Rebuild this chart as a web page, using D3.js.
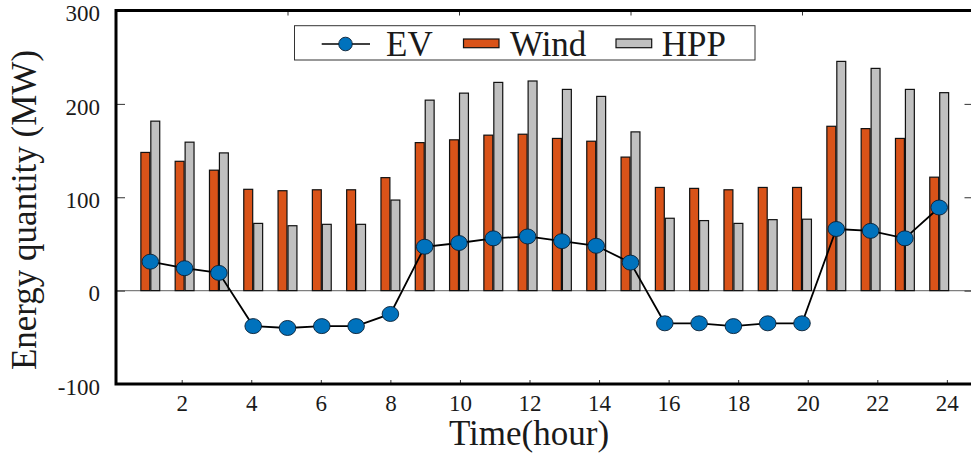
<!DOCTYPE html>
<html>
<head>
<meta charset="utf-8">
<script src="https://cdn.jsdelivr.net/npm/d3@7"></script>
<style>
  html, body { margin: 0; padding: 0; background: #fff; }
  svg { display: block; }
  text { font-family: "Liberation Serif", "Times New Roman", serif; fill: #1a1a1a; }
</style>
</head>
<body>
<svg id="chart" width="971" height="454"></svg>
<script>
// Hourly energy quantities (MW)
const hours = d3.range(1, 25);
const evValues = [31, 24, 19, -38, -40, -38, -38, -25, 47, 51, 56, 58, 53, 48, 30, -35, -35, -38, -35, -35, 66, 64, 56, 89];
const windValues = [148, 138.5, 129, 108.5, 107, 108, 108, 121, 158.5, 161.5, 166.5, 167.5, 163, 160, 143, 110.5, 109.5, 108, 110.5, 110.5, 176, 173.5, 163, 121.5];
const hppValues = [181.5, 159, 147.5, 72, 69.5, 71, 71, 97, 204, 211.5, 223, 224.5, 215.5, 208, 170, 77.5, 75, 72, 76, 76.5, 245.5, 238, 215.5, 212];
const yTicks = [-100, 0, 100, 200, 300];
const xTickLabels = [2, 4, 6, 8, 10, 12, 14, 16, 18, 20, 22, 24];
const topTicks = [5, 10, 15, 20];
const rightTicks = [0, 100, 200];
const seriesNames = ["EV", "Wind", "HPP"];

const colors = { ev: "#0072BD", wind: "#D95319", hpp: "#C0C0C0" };

const svg = d3.select("#chart");
const plotL = 116, plotR = 973.5, plotT = 10.5, plotB = 384;

// Data axis and the secondary hour axis that carries the bottom labels
const x = d3.scaleLinear().domain([0, 25]).range([plotL, plotR]);
const xLab = d3.scaleLinear().domain([2, 22]).range([181.7, 877.3]);
const y = d3.scaleLinear().domain([-100, 300]).range([plotB, plotT]);

const barW = x(0.26) - x(0);

// Zero reference line
svg.append("line")
  .attr("x1", plotL).attr("x2", plotR)
  .attr("y1", y(0)).attr("y2", y(0))
  .attr("stroke", "#7f7f7f").attr("stroke-width", 1.2);

// Wind bars
svg.append("g").selectAll("rect")
  .data(hours)
  .join("rect")
  .attr("x", (h) => x(h - 0.275))
  .attr("width", barW)
  .attr("y", (h, i) => y(windValues[i]))
  .attr("height", (h, i) => y(0) - y(windValues[i]))
  .attr("fill", colors.wind)
  .attr("stroke", "#111").attr("stroke-width", 1.2);

// HPP bars
svg.append("g").selectAll("rect")
  .data(hours)
  .join("rect")
  .attr("x", (h) => x(h + 0.015))
  .attr("width", barW)
  .attr("y", (h, i) => y(hppValues[i]))
  .attr("height", (h, i) => y(0) - y(hppValues[i]))
  .attr("fill", colors.hpp)
  .attr("stroke", "#111").attr("stroke-width", 1.2);

// EV line with markers
const line = d3.line().x((d) => x(d[0])).y((d) => y(d[1]));
const evPts = hours.map((h, i) => [h, evValues[i]]);
svg.append("path")
  .datum(evPts)
  .attr("d", line)
  .attr("fill", "none")
  .attr("stroke", "#000").attr("stroke-width", 1.8);
svg.append("g").selectAll("ellipse")
  .data(evPts)
  .join("ellipse")
  .attr("cx", (d) => x(d[0]))
  .attr("cy", (d) => y(d[1]))
  .attr("rx", 8.3).attr("ry", 7.5)
  .attr("fill", colors.ev)
  .attr("stroke", "#0a1f33").attr("stroke-width", 0.9);

// Axes
const tickFont = 23;
const plainNum = (d) => String(d);
const gLeft = svg.append("g")
  .attr("transform", `translate(${plotL},0)`)
  .call(d3.axisLeft(y).tickValues(yTicks).tickFormat(plainNum)
    .tickSizeInner(-9).tickSizeOuter(0).tickPadding(16));
gLeft.selectAll("text").attr("font-size", tickFont).attr("dy", "0.45em");

const gBottom = svg.append("g")
  .attr("transform", `translate(0,${plotB})`)
  .call(d3.axisBottom(xLab).tickValues(xTickLabels).tickFormat(plainNum)
    .tickSizeInner(-4).tickSizeOuter(0).tickPadding(11));
gBottom.selectAll("text").attr("font-size", tickFont);

const gTop = svg.append("g")
  .attr("transform", `translate(0,${plotT})`)
  .call(d3.axisTop(x).tickValues(topTicks).tickSizeInner(-5).tickSizeOuter(0).tickFormat(""));

const gRight = svg.append("g")
  .attr("transform", `translate(${plotR},0)`)
  .call(d3.axisRight(y).tickValues(rightTicks).tickSizeInner(-9).tickSizeOuter(0).tickFormat(""));

[gLeft, gBottom, gTop, gRight].forEach((g) => {
  g.select(".domain").remove();
  g.selectAll(".tick line").attr("stroke", "#333").attr("stroke-width", 1);
  g.selectAll("text").attr("fill", "#1a1a1a");
});

// Frame
svg.append("rect")
  .attr("x", plotL).attr("y", plotT)
  .attr("width", plotR - plotL).attr("height", plotB - plotT)
  .attr("fill", "none")
  .attr("stroke", "#000").attr("stroke-width", 3);

// Axis titles
svg.append("text")
  .attr("x", 529).attr("y", 445)
  .attr("text-anchor", "middle")
  .attr("font-size", 35)
  .text("Time(hour)");
svg.append("text")
  .attr("transform", "translate(36,210) rotate(-90)")
  .attr("text-anchor", "middle")
  .attr("font-size", 35)
  .text("Energy quantity (MW)");

// Legend
const lg = svg.append("g");
lg.append("rect")
  .attr("x", 294.5).attr("y", 25.7)
  .attr("width", 460.5).attr("height", 34.3)
  .attr("fill", "#fff").attr("stroke", "#333").attr("stroke-width", 1);
lg.append("line")
  .attr("x1", 321.7).attr("x2", 370).attr("y1", 44).attr("y2", 44)
  .attr("stroke", "#000").attr("stroke-width", 1.5);
lg.append("circle")
  .attr("cx", 345.5).attr("cy", 44).attr("r", 6.8)
  .attr("fill", colors.ev).attr("stroke", "#0a1f33").attr("stroke-width", 0.9);
lg.append("rect")
  .attr("x", 463.5).attr("y", 39).attr("width", 35.5).attr("height", 8.7)
  .attr("fill", colors.wind).attr("stroke", "#111").attr("stroke-width", 1.2);
lg.append("rect")
  .attr("x", 616).attr("y", 39).attr("width", 35.7).attr("height", 8.7)
  .attr("fill", colors.hpp).attr("stroke", "#111").attr("stroke-width", 1.2);
const legendX = [386, 510, 661.7];
lg.selectAll("text.lbl")
  .data(seriesNames)
  .join("text")
  .attr("class", "lbl")
  .attr("x", (d, i) => legendX[i])
  .attr("y", 55.7)
  .attr("font-size", 35)
  .text((d) => d);
</script>
</body>
</html>
